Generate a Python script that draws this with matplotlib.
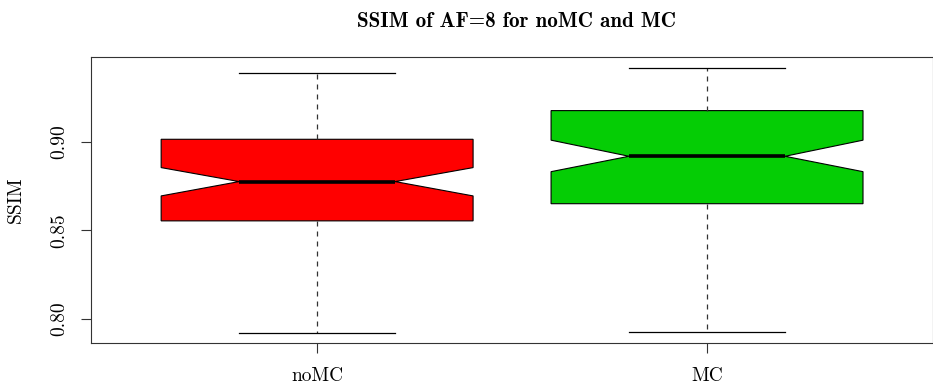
import matplotlib
matplotlib.use("Agg")
import matplotlib.pyplot as plt

plt.rcParams['font.family'] = 'serif'
plt.rcParams['font.serif'] = ['cmr10', 'DejaVu Serif']
plt.rcParams['axes.formatter.use_mathtext'] = True

# resumen de cada grupo (cuartiles, mediana, muescas y bigotes)
grupos = ['noMC', 'MC']
q1 = [0.8554, 0.8651]
mediana = [0.8776, 0.8919]
q3 = [0.9015, 0.9177]
muesca_inf = [0.8695, 0.8832]
muesca_sup = [0.8855, 0.9010]
bigote_inf = [0.7919, 0.7928]
bigote_sup = [0.9390, 0.9418]
colores = ['#FF0000', '#05CD05']
marcas_y = [0.80, 0.85, 0.90]

stats = []
for i, g in enumerate(grupos):
    stats.append(dict(label=g, q1=q1[i], med=mediana[i], q3=q3[i],
                      cilo=muesca_inf[i], cihi=muesca_sup[i],
                      whislo=bigote_inf[i], whishi=bigote_sup[i], fliers=[]))

fig = plt.figure(figsize=(9.33, 3.84), dpi=100)
ax = fig.add_axes([0.0975, 0.1068, 0.9027, 0.7448])

bp = ax.bxp(stats, positions=[1, 2], widths=0.8, shownotches=True, patch_artist=True,
            showfliers=False,
            boxprops=dict(edgecolor='black', linewidth=0.8),
            medianprops=dict(color='black', linewidth=2.6, solid_capstyle='butt'),
            whiskerprops=dict(color='#333333', linewidth=0.9, linestyle=(0, (4, 4))),
            capprops=dict(color='black', linewidth=0.9),
            capwidths=0.4)
for caja, c in zip(bp['boxes'], colores):
    caja.set_facecolor(c)

ax.set_xlim(0.42, 2.58)
ax.set_ylim(0.7864, 0.948)

ax.set_xticks([1, 2])
ax.set_xticklabels(grupos, fontsize=14)
ax.set_yticks(marcas_y)
ax.set_yticklabels(['%.2f' % v for v in marcas_y], fontsize=14, rotation=90, va='center')
ax.tick_params(axis='both', direction='out', length=7.5, width=0.8, color='#333333')
ax.tick_params(axis='x', pad=10)
ax.tick_params(axis='y', pad=9)

for s in ax.spines.values():
    s.set_linewidth(0.8)
    s.set_color('#333333')

ax.set_ylabel('SSIM', fontsize=14, labelpad=18)
fig.text(0.554, 0.945, 'SSIM of AF=8 for noMC and MC', ha='center', va='center',
         fontsize=15.2, family='cmb10')

fig.savefig('out.png', dpi=100)
